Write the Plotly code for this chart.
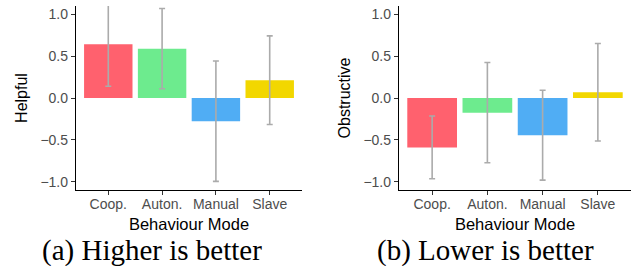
import plotly.graph_objects as go

modes = ["Coop.", "Auton.", "Manual", "Slave"]
colors = ["#FF616E", "#6DEB8E", "#50ADF4", "#F2D700"]
helpful_mean = [0.643, 0.59, -0.277, 0.213]
helpful_err = [0.503, 0.48, 0.72, 0.53]
obstructive_mean = [-0.591, -0.175, -0.445, 0.068]
obstructive_err = [0.375, 0.60, 0.537, 0.583]
y_ticks = [-1.0, -0.5, 0.0, 0.5, 1.0]
captions = ["(a) Higher is better", "(b) Lower is better"]
y_titles = ["Helpful", "Obstructive"]
x_title = "Behaviour Mode"

W, H = 632, 266
fig = go.Figure()

def px_x(p):
    return p / W

def px_y(p):
    return 1 - p / H

panels = [
    dict(mean=helpful_mean, err=helpful_err, xa="x", ya="y", x0=76, x1=302),
    dict(mean=obstructive_mean, err=obstructive_err, xa="x2", ya="y2", x0=399, x1=631),
]

for p in panels:
    fig.add_trace(go.Bar(
        x=modes, y=p["mean"], xaxis=p["xa"], yaxis=p["ya"],
        marker=dict(color=colors, line=dict(width=0)),
        width=0.9, showlegend=False,
        error_y=dict(type="data", array=p["err"], visible=True,
                     color="#ABABAB", thickness=1.6, width=3),
    ))

sans = "Liberation Sans, Arial, sans-serif"
axis_common = dict(
    showgrid=False, zeroline=False, showline=True, linecolor="black", linewidth=1.3,
    ticks="outside", ticklen=4, tickwidth=1.1, tickcolor="#333333",
    tickfont=dict(family=sans, size=14, color="#4D4D4D"),
    automargin=False,
)

for i, p in enumerate(panels):
    sfx = "" if i == 0 else "2"
    fig.layout["xaxis" + sfx] = dict(
        axis_common,
        domain=[px_x(p["x0"]), px_x(p["x1"])],
        anchor="y" + sfx, range=[-0.6, 3.6], type="category",
        ticklabelstandoff=-3,
        title=dict(text=x_title, font=dict(family=sans, size=16.5, color="black"), standoff=7),
    )
    fig.layout["yaxis" + sfx] = dict(
        axis_common,
        domain=[px_y(190), px_y(6)],
        anchor="x" + sfx, range=[-1.1, 1.1],
        tickvals=y_ticks, tickformat=".1f",
        title=dict(text=y_titles[i], font=dict(family=sans, size=16, color="black"), standoff=8),
    )

cap_x = [151.5, 485]
for i in range(2):
    fig.add_annotation(
        text=captions[i], xref="paper", yref="paper",
        x=px_x(cap_x[i]), y=px_y(250), xanchor="center", yanchor="middle",
        showarrow=False, font=dict(family="Liberation Serif, Times New Roman, serif", size=29, color="black"),
    )

fig.update_layout(
    width=W, height=H, margin=dict(l=0, r=0, t=0, b=0, autoexpand=False),
    paper_bgcolor="white", plot_bgcolor="white", bargap=0.1,
)

fig.write_html("out.html", config={"displayModeBar": False},
               post_script="document.body.style.margin='0px';document.body.style.padding='0px';")
